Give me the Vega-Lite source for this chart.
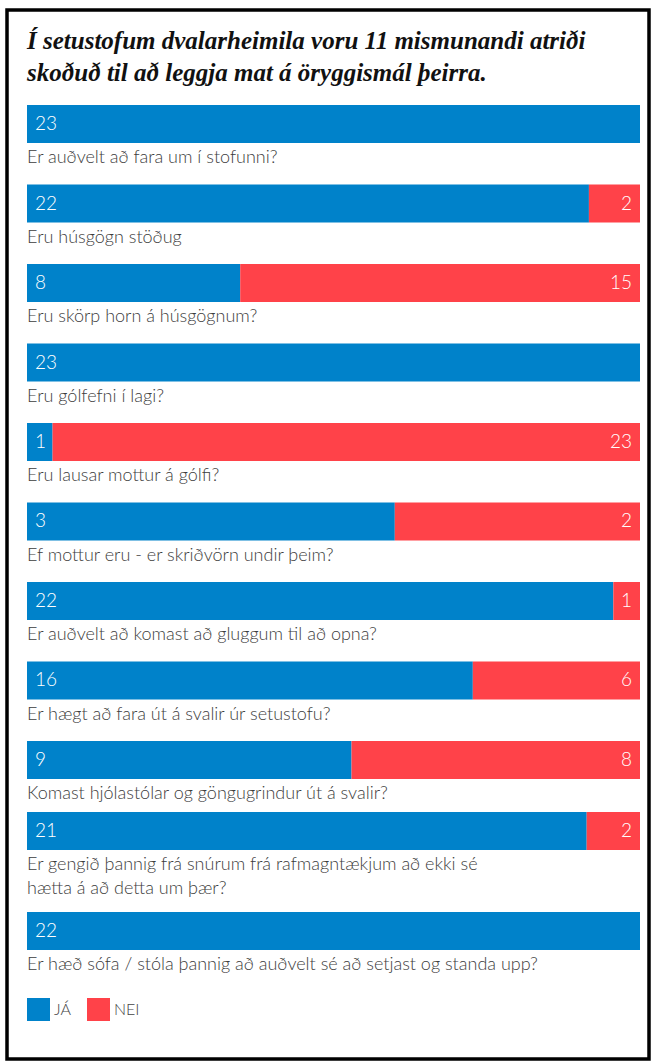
{
  "$schema": "https://vega.github.io/schema/vega-lite/v6.json",
  "width": 642,
  "height": 1049,
  "autosize": {"type": "none"},
  "padding": {"left": 7, "top": 10, "right": 3, "bottom": 4},
  "background": "white",
  "config": {
    "view": {"stroke": "black", "strokeWidth": 3.5},
    "text": {"font": "Lato", "fontWeight": 300}
  },
  "title": {
    "text": ["Í setustofum dvalarheimila voru 11 mismunandi atriði", "skoðuð til að leggja mat á öryggismál þeirra."],
    "anchor": "start",
    "frame": "group",
    "offset": -76,
    "dx": 20,
    "font": "Liberation Serif",
    "fontStyle": "italic",
    "fontWeight": "bold",
    "fontSize": 25,
    "lineHeight": 32,
    "color": "#111111"
  },
  "datasets": {
    "rows": [
      {"q": "Er auðvelt að fara um í stofunni?", "a": "JÁ", "n": 23},
      {"q": "Eru húsgögn stöðug", "a": "JÁ", "n": 22},
      {"q": "Eru húsgögn stöðug", "a": "NEI", "n": 2},
      {"q": "Eru skörp horn á húsgögnum?", "a": "JÁ", "n": 8},
      {"q": "Eru skörp horn á húsgögnum?", "a": "NEI", "n": 15},
      {"q": "Eru gólfefni í lagi?", "a": "JÁ", "n": 23},
      {"q": "Eru lausar mottur á gólfi?", "a": "JÁ", "n": 1},
      {"q": "Eru lausar mottur á gólfi?", "a": "NEI", "n": 23},
      {"q": "Ef mottur eru  - er skriðvörn undir þeim?", "a": "JÁ", "n": 3},
      {"q": "Ef mottur eru  - er skriðvörn undir þeim?", "a": "NEI", "n": 2},
      {"q": "Er auðvelt að komast að gluggum til að opna?", "a": "JÁ", "n": 22},
      {"q": "Er auðvelt að komast að gluggum til að opna?", "a": "NEI", "n": 1},
      {"q": "Er hægt að fara út á svalir úr setustofu?", "a": "JÁ", "n": 16},
      {"q": "Er hægt að fara út á svalir úr setustofu?", "a": "NEI", "n": 6},
      {"q": "Komast hjólastólar og göngugrindur út á svalir?", "a": "JÁ", "n": 9},
      {"q": "Komast hjólastólar og göngugrindur út á svalir?", "a": "NEI", "n": 8},
      {"q": "Er gengið þannig frá snúrum frá rafmagntækjum að ekki sé\nhætta á að detta um þær?", "a": "JÁ", "n": 21},
      {"q": "Er gengið þannig frá snúrum frá rafmagntækjum að ekki sé\nhætta á að detta um þær?", "a": "NEI", "n": 2},
      {"q": "Er hæð sófa / stóla þannig að auðvelt sé að setjast og standa upp?", "a": "JÁ", "n": 22}
    ]
  },
  "data": {"name": "rows"},
  "resolve": {"scale": {"y": "independent"}},
  "layer": [
    {
      "transform": [{"filter": {"not": {"field": "q", "oneOf": ["Er gengið þannig frá snúrum frá rafmagntækjum að ekki sé\nhætta á að detta um þær?", "Er hæð sófa / stóla þannig að auðvelt sé að setjast og standa upp?"]}}}],
      "encoding": {
        "y": {
          "field": "q",
          "type": "nominal",
          "sort": null,
          "axis": null,
          "scale": {"range": [95, 769], "paddingInner": 0.522, "paddingOuter": 0}
        }
      },
      "layer": [
        {
          "mark": {"type": "bar", "cornerRadius": 0},
          "encoding": {
            "x": {"field": "n", "type": "quantitative", "stack": "normalize", "axis": null, "scale": {"range": [20, 633], "nice": false}},
            "color": {
              "field": "a",
              "type": "nominal",
              "scale": {"domain": ["JÁ", "NEI"], "range": ["#0082CA", "#FF4249"]},
              "legend": {
                "title": null,
                "orient": "none",
                "legendX": 20,
                "legendY": 988,
                "direction": "horizontal",
                "symbolType": "square",
                "symbolSize": 529,
                "symbolStrokeWidth": 0,
                "symbolOpacity": 1,
                "labelFont": "Lato",
                "labelFontWeight": 300,
                "labelFontSize": 16,
                "labelColor": "#444444",
                "labelOffset": 4,
                "columnPadding": 16,
                "padding": 0
              }
            }
          }
        },
        {
          "transform": [{"filter": "datum.a === 'JÁ'"}],
          "mark": {"type": "text", "align": "left", "baseline": "middle", "dx": 8, "fontSize": 19, "color": "white"},
          "encoding": {"x": {"datum": 0, "type": "quantitative"}, "text": {"field": "n", "type": "quantitative"}}
        },
        {
          "transform": [{"filter": "datum.a === 'NEI'"}],
          "mark": {"type": "text", "align": "right", "baseline": "middle", "dx": -8, "fontSize": 19, "color": "white"},
          "encoding": {"x": {"datum": 1, "type": "quantitative"}, "text": {"field": "n", "type": "quantitative"}}
        },
        {
          "transform": [{"filter": "datum.a === 'JÁ'"}],
          "mark": {"type": "text", "align": "left", "baseline": "alphabetic", "dy": 20, "fontSize": 18, "lineHeight": 24, "lineBreak": "\n", "color": "#3d3d3d"},
          "encoding": {
            "x": {"datum": 0, "type": "quantitative"},
            "y": {"field": "q", "type": "nominal", "sort": null, "bandPosition": 1},
            "text": {"field": "q", "type": "nominal"}
          }
        }
      ]
    },
    {
      "transform": [{"filter": {"field": "q", "oneOf": ["Er gengið þannig frá snúrum frá rafmagntækjum að ekki sé\nhætta á að detta um þær?", "Er hæð sófa / stóla þannig að auðvelt sé að setjast og standa upp?"]}}],
      "encoding": {
        "y": {
          "field": "q",
          "type": "nominal",
          "sort": null,
          "axis": null,
          "scale": {"range": [802, 940], "paddingInner": 0.62, "paddingOuter": 0}
        }
      },
      "layer": [
        {
          "mark": {"type": "bar", "cornerRadius": 0},
          "encoding": {
            "x": {"field": "n", "type": "quantitative", "stack": "normalize", "axis": null},
            "color": {"field": "a", "type": "nominal"}
          }
        },
        {
          "transform": [{"filter": "datum.a === 'JÁ'"}],
          "mark": {"type": "text", "align": "left", "baseline": "middle", "dx": 8, "fontSize": 19, "color": "white"},
          "encoding": {"x": {"datum": 0, "type": "quantitative"}, "text": {"field": "n", "type": "quantitative"}}
        },
        {
          "transform": [{"filter": "datum.a === 'NEI'"}],
          "mark": {"type": "text", "align": "right", "baseline": "middle", "dx": -8, "fontSize": 19, "color": "white"},
          "encoding": {"x": {"datum": 1, "type": "quantitative"}, "text": {"field": "n", "type": "quantitative"}}
        },
        {
          "transform": [{"filter": "datum.a === 'JÁ'"}],
          "mark": {"type": "text", "align": "left", "baseline": "alphabetic", "dy": 20, "fontSize": 18, "lineHeight": 24, "lineBreak": "\n", "color": "#3d3d3d"},
          "encoding": {
            "x": {"datum": 0, "type": "quantitative"},
            "y": {"field": "q", "type": "nominal", "sort": null, "bandPosition": 1},
            "text": {"field": "q", "type": "nominal"}
          }
        }
      ]
    }
  ]
}
